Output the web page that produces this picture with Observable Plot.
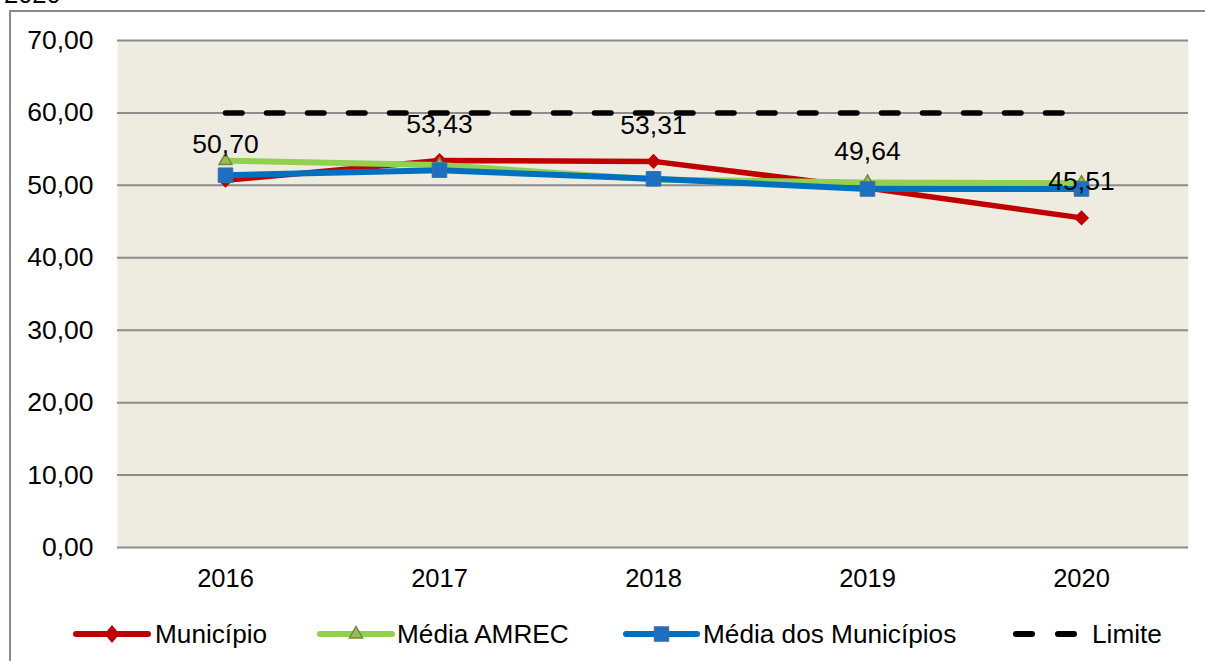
<!DOCTYPE html>
<html>
<head>
<meta charset="utf-8">
<script src="https://cdn.jsdelivr.net/npm/d3@7"></script>
<script src="https://cdn.jsdelivr.net/npm/@observablehq/plot@0.6"></script>
<style>
  html, body { margin: 0; padding: 0; background: #fff; overflow: hidden; }
  #root { position: relative; width: 1205px; height: 661px; font-family: "Liberation Sans", Arial, sans-serif; }
  #frame { position: absolute; left: 9px; top: 10px; width: 1300px; height: 800px; border: 2px solid #8a8a8a; box-sizing: border-box; }
  #title { position: absolute; left: 4px; top: -18px; font-size: 25.5px; line-height: 25.5px; color: #000; white-space: nowrap; }
  #chart { position: absolute; left: 0; top: 0; }
  #legend { position: absolute; left: 0; top: 610px; }
</style>
</head>
<body>
<div id="root">
  <div id="frame"></div>
  <div id="title">2020</div>
  <div id="chart"></div>
  <div id="legend"></div>
</div>
<script>
// ---- data ----
const years = ["2016", "2017", "2018", "2019", "2020"];
const municipio = [50.70, 53.43, 53.31, 49.64, 45.51];
const mediaAmrec = [53.4, 52.8, 50.8, 50.4, 50.3];
const mediaMunicipios = [51.4, 52.1, 50.9, 49.5, 49.5];
const limite = [60, 60, 60, 60, 60];
const yTicks = [0, 10, 20, 30, 40, 50, 60, 70];
const seriesNames = ["Município", "Média AMREC", "Média dos Municípios", "Limite"];

const fmt = d => d.toFixed(2).replace(".", ",");
const rows = arr => years.map((year, i) => ({year, value: arr[i]}));

const rMun = rows(municipio);
const rAmrec = rows(mediaAmrec);
const rMed = rows(mediaMunicipios);
const rLim = rows(limite);

const C = {
  red: "#C00000",
  green: "#92D050", greenFill: "#9BBB59", greenStroke: "#71893F",
  blue: "#0070C0", blueFill: "#1F6FC0", blueStroke: "#3C6AA5",
  black: "#000000"
};
const FS = 25.5;
const FSNUM = 26.5;
const FSLEG = 26.2;

const chart = Plot.plot({
  width: 1205,
  height: 600,
  marginTop: 40,
  marginLeft: 117,
  marginRight: 17,
  marginBottom: 53,
  style: {fontFamily: "'Liberation Sans', Arial, sans-serif", fontSize: FS + "px", background: "transparent", overflow: "visible", color: "#000"},
  x: {type: "point", domain: years, padding: 0.5, label: null},
  y: {domain: [0, 70], label: null},
  marks: [
    Plot.frame({fill: "#EEEBE0", stroke: null}),
    Plot.ruleY(yTicks, {stroke: "#8C8C8C", strokeWidth: 2}),
    Plot.axisY({ticks: yTicks, tickSize: 0, tickPadding: 24, tickFormat: fmt, fontSize: FSNUM, fill: "#000", label: null}),
    Plot.axisX({tickSize: 0, tickPadding: 21, fontSize: FS, fill: "#000", label: null}),
    Plot.line(rLim, {x: "year", y: "value", stroke: C.black, strokeWidth: 5.5, strokeDasharray: "16.5,24.5", strokeLinecap: "round"}),
    Plot.line(rMun, {x: "year", y: "value", stroke: C.red, strokeWidth: 5.5, strokeLinejoin: "round"}),
    Plot.dot(rMun, {x: "year", y: "value", symbol: "diamond2", r: 6.8, fill: C.red, stroke: null}),
    Plot.line(rAmrec, {x: "year", y: "value", stroke: C.green, strokeWidth: 6, strokeLinejoin: "round"}),
    Plot.dot(rAmrec, {x: "year", y: "value", symbol: "triangle", r: 4.8, fill: C.greenFill, stroke: C.greenStroke, strokeWidth: 1.5}),
    Plot.line(rMed, {x: "year", y: "value", stroke: C.blue, strokeWidth: 6, strokeLinejoin: "round"}),
    Plot.dot(rMed, {x: "year", y: "value", symbol: "square", r: 8.2, fill: C.blueFill, stroke: C.blueStroke, strokeWidth: 1}),
    Plot.text(rMun, {x: "year", y: "value", text: d => fmt(d.value), dy: -36, fontSize: FSNUM, fill: "#000"})
  ]
});
document.getElementById("chart").appendChild(chart);

// ---- legend ----
const legendItems = [
  {name: seriesNames[0], x0: 76, x1: 148, color: C.red, sym: "diamond", tx: 155},
  {name: seriesNames[1], x0: 320, x1: 392, color: C.green, sym: "triangle", tx: 397},
  {name: seriesNames[2], x0: 626, x1: 697, color: C.blue, sym: "square", tx: 703},
  {name: seriesNames[3], x0: 1016, x1: 1074, color: C.black, sym: "dash", tx: 1092}
];
const lsvg = d3.select("#legend").append("svg").attr("width", 1205).attr("height", 50)
  .style("font-family", "'Liberation Sans', Arial, sans-serif").style("overflow", "visible");
const cy = 24;
legendItems.forEach(it => {
  const g = lsvg.append("g");
  const ln = g.append("line").attr("x1", it.x0).attr("x2", it.x1).attr("y1", cy).attr("y2", cy)
    .attr("stroke", it.color).attr("stroke-width", 6).attr("stroke-linecap", "round");
  const cx = (it.x0 + it.x1) / 2;
  if (it.sym === "dash") ln.attr("stroke-dasharray", "16,26");
  if (it.sym === "diamond") g.append("path").attr("d", `M${cx},${cy - 9}L${cx + 7.5},${cy}L${cx},${cy + 9}L${cx - 7.5},${cy}Z`).attr("fill", C.red);
  if (it.sym === "triangle") g.append("path").attr("d", `M${cx},${cy - 7.5}L${cx + 6.5},${cy + 4}L${cx - 6.5},${cy + 4}Z`).attr("fill", C.greenFill).attr("stroke", C.greenStroke).attr("stroke-width", 1.5);
  if (it.sym === "square") g.append("rect").attr("x", cx - 7.2).attr("y", cy - 7.2).attr("width", 14.4).attr("height", 14.4).attr("fill", C.blueFill).attr("stroke", C.blueStroke);
  g.append("text").attr("x", it.tx).attr("y", 33).attr("font-size", FSLEG).attr("fill", "#000").text(it.name);
});
</script>
</body>
</html>
